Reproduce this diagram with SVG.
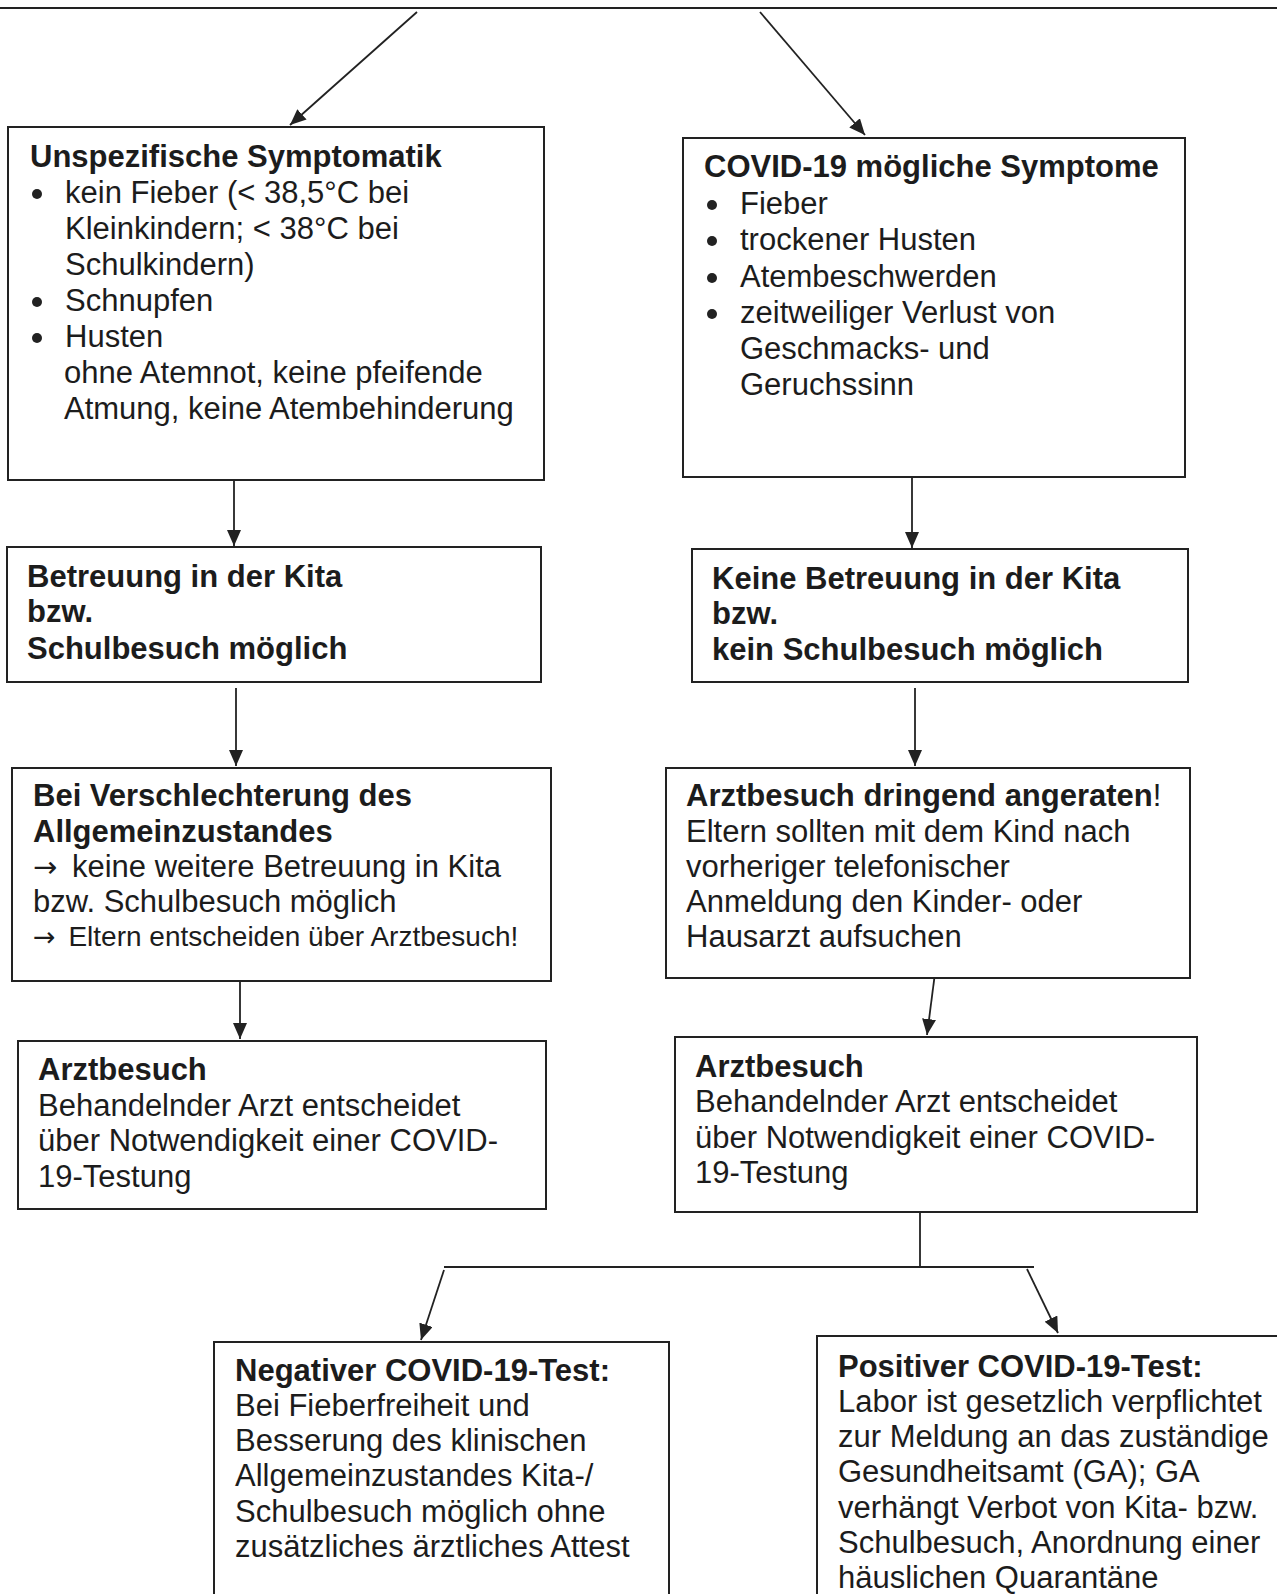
<svg xmlns="http://www.w3.org/2000/svg" width="1277" height="1594" viewBox="0 0 1277 1594">
<style>
.box{fill:#fff;stroke:#222;stroke-width:2}
.ln{fill:none;stroke:#222;stroke-width:1.8}
text{font-family:"Liberation Sans",Arial,sans-serif;font-size:31px;fill:#1c1c1c}
.b{font-weight:bold}
.sm{font-size:28px}
.ar{font-family:"DejaVu Sans",sans-serif;font-size:29px}
.ar2{font-family:"DejaVu Sans",sans-serif;font-size:27px}
.dot{fill:#222}
</style>
<defs>
<marker id="ah" markerUnits="userSpaceOnUse" markerWidth="18" markerHeight="14" refX="16" refY="7" orient="auto">
<path d="M0,0 L16,7 L0,14 Z" fill="#222"/>
</marker>
</defs>
<rect width="1277" height="1594" fill="#fff"/>
<g id="connectors">
<line class="ln" x1="0" y1="8" x2="1277" y2="8"/>
<line class="ln" x1="417" y1="12" x2="290" y2="125" marker-end="url(#ah)"/>
<line class="ln" x1="760" y1="12" x2="865" y2="135" marker-end="url(#ah)"/>
<line class="ln" x1="234" y1="480" x2="234" y2="546" marker-end="url(#ah)"/>
<line class="ln" x1="912" y1="477" x2="912" y2="548" marker-end="url(#ah)"/>
<line class="ln" x1="236" y1="688" x2="236" y2="766" marker-end="url(#ah)"/>
<line class="ln" x1="915" y1="688" x2="915" y2="766" marker-end="url(#ah)"/>
<line class="ln" x1="240" y1="981" x2="240" y2="1039" marker-end="url(#ah)"/>
<line class="ln" x1="935" y1="973" x2="927" y2="1035" marker-end="url(#ah)"/>
<line class="ln" x1="920" y1="1211" x2="920" y2="1267"/>
<line class="ln" x1="444" y1="1267" x2="1034" y2="1267"/>
<line class="ln" x1="444" y1="1270" x2="421" y2="1340" marker-end="url(#ah)"/>
<line class="ln" x1="1027" y1="1269" x2="1058" y2="1333" marker-end="url(#ah)"/>
</g>
<g id="n1">
<rect class="box" x="8" y="127" width="536" height="353"/>
<text class="b" x="30" y="167">Unspezifische Symptomatik</text>
<circle class="dot" cx="37" cy="194" r="5"/>
<circle class="dot" cx="37" cy="302" r="5"/>
<circle class="dot" cx="37" cy="338" r="5"/>
<text x="65" y="203">kein Fieber (&lt; 38,5°C bei</text>
<text x="65" y="239">Kleinkindern; &lt; 38°C bei</text>
<text x="65" y="275">Schulkindern)</text>
<text x="65" y="311">Schnupfen</text>
<text x="65" y="347">Husten</text>
<text x="64" y="383">ohne Atemnot, keine pfeifende</text>
<text x="64" y="419">Atmung, keine Atembehinderung</text>
</g>
<g id="n2">
<rect class="box" x="683" y="138" width="502" height="339"/>
<text class="b" x="704" y="177">COVID-19 mögliche Symptome</text>
<circle class="dot" cx="712" cy="205" r="5"/>
<circle class="dot" cx="712" cy="241" r="5"/>
<circle class="dot" cx="712" cy="278" r="5"/>
<circle class="dot" cx="712" cy="314" r="5"/>
<text x="740" y="214">Fieber</text>
<text x="740" y="250">trockener Husten</text>
<text x="740" y="287">Atembeschwerden</text>
<text x="740" y="323">zeitweiliger Verlust von</text>
<text x="740" y="359">Geschmacks- und</text>
<text x="740" y="395">Geruchssinn</text>
</g>
<g id="n3">
<rect class="box" x="7" y="547" width="534" height="135"/>
<text class="b" x="27" y="587">Betreuung in der Kita</text>
<text class="b" x="27" y="622">bzw.</text>
<text class="b" x="27" y="659">Schulbesuch möglich</text>
</g>
<g id="n4">
<rect class="box" x="692" y="549" width="496" height="133"/>
<text class="b" x="712" y="589">Keine Betreuung in der Kita</text>
<text class="b" x="712" y="624">bzw.</text>
<text class="b" x="712" y="660">kein Schulbesuch möglich</text>
</g>
<g id="n5">
<rect class="box" x="12" y="768" width="539" height="213"/>
<text class="b" x="33" y="806">Bei Verschlechterung des</text>
<text class="b" x="33" y="842">Allgemeinzustandes</text>
<text x="33" y="877"><tspan class="ar">→</tspan><tspan dx="6"> keine weitere Betreuung in Kita</tspan></text>
<text x="33" y="912">bzw. Schulbesuch möglich</text>
<text class="sm" x="33" y="946"><tspan class="ar2">→</tspan><tspan dx="5"> Eltern entscheiden über Arztbesuch!</tspan></text>
</g>
<g id="n6">
<rect class="box" x="666" y="768" width="524" height="210"/>
<text x="686" y="806"><tspan class="b">Arztbesuch dringend angeraten</tspan>!</text>
<text x="686" y="842">Eltern sollten mit dem Kind nach</text>
<text x="686" y="877">vorheriger telefonischer</text>
<text x="686" y="912">Anmeldung den Kinder- oder</text>
<text x="686" y="947">Hausarzt aufsuchen</text>
</g>
<g id="n7">
<rect class="box" x="18" y="1041" width="528" height="168"/>
<text class="b" x="38" y="1080">Arztbesuch</text>
<text x="38" y="1116">Behandelnder Arzt entscheidet</text>
<text x="38" y="1151">über Notwendigkeit einer COVID-</text>
<text x="38" y="1187">19-Testung</text>
</g>
<g id="n8">
<rect class="box" x="675" y="1037" width="522" height="175"/>
<text class="b" x="695" y="1077">Arztbesuch</text>
<text x="695" y="1112">Behandelnder Arzt entscheidet</text>
<text x="695" y="1148">über Notwendigkeit einer COVID-</text>
<text x="695" y="1183">19-Testung</text>
</g>
<g id="n9">
<rect class="box" x="214" y="1342" width="455" height="280"/>
<text class="b" x="235" y="1381">Negativer COVID-19-Test:</text>
<text x="235" y="1416">Bei Fieberfreiheit und</text>
<text x="235" y="1451">Besserung des klinischen</text>
<text x="235" y="1486">Allgemeinzustandes Kita-/</text>
<text x="235" y="1522">Schulbesuch möglich ohne</text>
<text x="235" y="1557">zusätzliches ärztliches Attest</text>
</g>
<g id="n10">
<rect class="box" x="817" y="1336" width="480" height="290"/>
<text class="b" x="838" y="1377">Positiver COVID-19-Test:</text>
<text x="838" y="1412">Labor ist gesetzlich verpflichtet</text>
<text x="838" y="1447">zur Meldung an das zuständige</text>
<text x="838" y="1482">Gesundheitsamt (GA); GA</text>
<text x="838" y="1518">verhängt Verbot von Kita- bzw.</text>
<text x="838" y="1553">Schulbesuch, Anordnung einer</text>
<text x="838" y="1588">häuslichen Quarantäne</text>
</g>
</svg>
